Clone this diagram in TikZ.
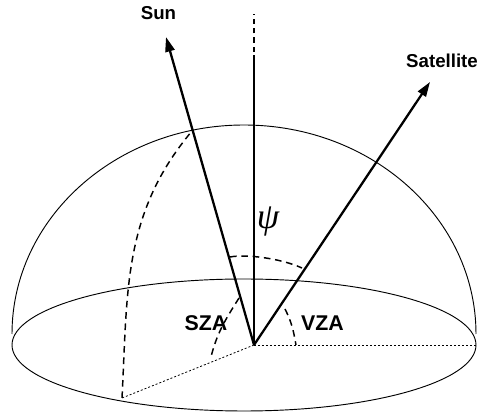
\documentclass[tikz,border=0pt]{standalone}
\usepackage{fontspec}
\setmainfont{Liberation Sans}
\newfontfamily\psifont{Liberation Serif}
\usetikzlibrary{arrows.meta}
\begin{document}
\begin{tikzpicture}[x=0.75pt, y=0.75pt,
  ray/.style={line width=1.7pt, -{Triangle[length=11pt,width=7pt]}},
  thinline/.style={line width=0.7pt},
  anglearc/.style={line width=1.1pt, dash pattern=on 5pt off 3.5pt},
  groundline/.style={line width=0.6pt, dash pattern=on 1.5pt off 1.5pt},
  bodylabel/.style={font=\bfseries\fontsize{14}{16}\selectfont},
  zalabel/.style={font=\bfseries\fontsize{16}{18}\selectfont}]
\useasboundingbox (0,0) rectangle (480,415);
\coordinate (O) at (254,70);
\coordinate (suntip) at (166,378);
\coordinate (sattip) at (430,333);
\coordinate (zenith) at (254,360);
\coordinate (south) at (122,17);
\coordinate (east) at (476,70);
% hemisphere and horizon
\draw[thinline] (12,81) arc[start angle=180, end angle=0, x radius=232, y radius=209];
\draw[thinline] (244,70) ellipse [x radius=232, y radius=66];
% local vertical
\draw[line width=1pt] (O) -- (zenith);
\draw[line width=1pt, dash pattern=on 4pt off 3pt] (254,363) -- (254,401);
% rays
\draw[ray] (O) -- (suntip);
\draw[ray] (O) -- (sattip);
\node[bodylabel] (sun) at (158.5,402) {Sun};
\node[bodylabel] (sat) at (442,354) {Satellite};
% ground projections
\draw[groundline] (O) -- (south);
\draw[groundline] (O) -- (east);
\draw[anglearc] (south) to[out=87, in=230] (192,284);
% angles
\draw[anglearc] (230,158) .. controls (245,161) and (280,157) .. (302,147);
\draw[anglearc] (239,117) to[out=238, in=76] (211,58);
\draw[anglearc] (285,106) to[out=-63, in=100] (296,70);
\node[font=\psifont\itshape\fontsize{27}{30}\selectfont] (psi) at (268,193) {ψ};
\node[zalabel] (sza) at (206,92) {SZA};
\node[zalabel] (vza) at (322.5,92) {VZA};
\end{tikzpicture}
\end{document}
